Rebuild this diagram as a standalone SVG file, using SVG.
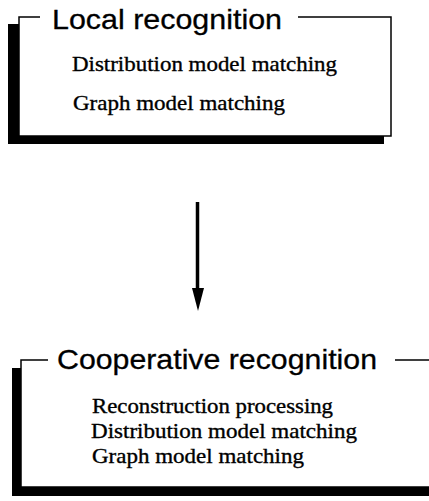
<svg xmlns="http://www.w3.org/2000/svg" width="429" height="501" viewBox="0 0 429 501">
<style>
.title{font-family:"Liberation Sans",Arial,sans-serif;font-size:28px;fill:#000;stroke:#000;stroke-width:0.3}
.body{font-family:"Liberation Serif","Times New Roman",serif;font-size:21px;fill:#000;stroke:#000;stroke-width:0.35}
.frame{fill:#fff;stroke:#000;stroke-width:1.5}
.shadow{fill:#000}
.edge{stroke:#000;stroke-width:3.5;fill:none}
</style>
<rect width="429" height="501" fill="#fff"/>
<g id="local">
<rect class="shadow" x="8" y="24" width="376" height="120"/>
<rect class="frame" x="19" y="17" width="372" height="119"/>
<rect x="40" y="10" width="258" height="14" fill="#fff"/>
<text class="title" x="52" y="29" textLength="230" lengthAdjust="spacingAndGlyphs">Local recognition</text>
<text class="body" x="72" y="71" textLength="265" lengthAdjust="spacingAndGlyphs">Distribution model matching</text>
<text class="body" x="73" y="110" textLength="212" lengthAdjust="spacingAndGlyphs">Graph model matching</text>
</g>
<g id="cooperative">
<rect class="shadow" x="12" y="368" width="430" height="128"/>
<rect class="frame" x="21" y="360" width="430" height="127"/>
<rect x="48" y="352" width="347" height="14" fill="#fff"/>
<text class="title" x="57" y="369" textLength="320" lengthAdjust="spacingAndGlyphs">Cooperative recognition</text>
<text class="body" x="92" y="413" textLength="241" lengthAdjust="spacingAndGlyphs">Reconstruction processing</text>
<text class="body" x="91" y="438" textLength="266" lengthAdjust="spacingAndGlyphs">Distribution model matching</text>
<text class="body" x="92" y="463" textLength="212" lengthAdjust="spacingAndGlyphs">Graph model matching</text>
</g>
<g id="connectors">
<line class="edge" x1="197.5" y1="202" x2="197.5" y2="292"/>
<polygon points="192,288 204,288 198,311" fill="#000"/>
</g>
</svg>
